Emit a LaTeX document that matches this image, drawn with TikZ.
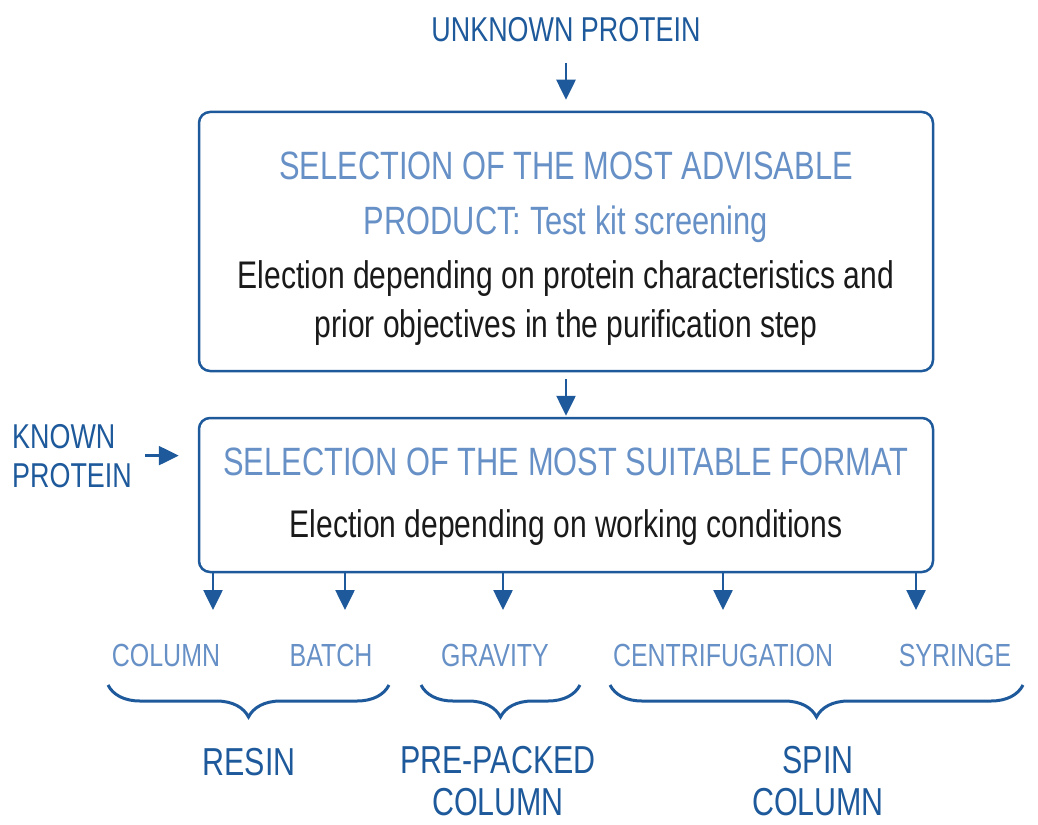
\documentclass[tikz,border=0pt]{standalone}
\usepackage{fontspec}
\setmainfont{Liberation Sans}[FakeStretch=0.78]
\usetikzlibrary{arrows.meta,decorations.pathreplacing}

\definecolor{darkblue}{HTML}{1E5A9B}
\definecolor{lightblue}{HTML}{6690C6}
\definecolor{bodygray}{HTML}{1A1A1A}

\tikzset{
  stepframe/.style={draw=darkblue, line width=2.5pt, rounded corners=11pt, inner sep=0pt},
  flowarrow/.style={draw=darkblue, line width=2.6pt, -{Triangle[length=20pt,width=19pt]}},
  headtext/.style={text=lightblue, align=center, font=\fontsize{39.5}{55}\selectfont, inner sep=0pt},
  bodytext/.style={text=bodygray, align=center, font=\fontsize{38.5}{49}\selectfont, inner sep=0pt},
  optiontext/.style={text=lightblue, font=\fontsize{32}{38}\selectfont, inner sep=0pt, anchor=base},
  inputtext/.style={text=darkblue, font=\fontsize{34.5}{39}\selectfont, inner sep=0pt},
  grouptext/.style={text=darkblue, align=center, font=\fontsize{39}{42}\selectfont, inner sep=0pt, anchor=base},
  groupbrace/.style={draw=darkblue, line width=3pt, decorate, decoration={brace, mirror, amplitude=32pt}}
}

\begin{document}
\begin{tikzpicture}[x=1pt,y=-1pt]
\useasboundingbox (0,0) rectangle (1038,824);

% the two selection steps (base = last line)
\node[stepframe, minimum width=734pt, minimum height=259pt] (product) at (566,241.5) {};
\node[stepframe, minimum width=734pt, minimum height=154pt] (format) at (566,495) {};

\node[headtext, anchor=base] (producthead) at (566,234) {SELECTION OF THE MOST ADVISABLE\\PRODUCT: Test kit screening};
\node[bodytext, anchor=base] (productbody) at (566,337) {Election depending on protein characteristics and\\prior objectives in the purification step};
\node[headtext, anchor=base] (formathead) at (566,475) {SELECTION OF THE MOST SUITABLE FORMAT};
\node[bodytext, anchor=base] (formatbody) at (566,537) {Election depending on working conditions};

% inputs
\node[inputtext, anchor=base] (unknown) at (566,42) {UNKNOWN PROTEIN};
\node[inputtext, align=left, anchor=base west] (known) at (12,487) {KNOWN\\PROTEIN};

\draw[flowarrow, shorten <=20pt, shorten >=11pt] (unknown.south) -- (product.north);
\draw[flowarrow, shorten <=7pt, shorten >=1pt] (product.south) -- (format.north);
\draw[flowarrow, shorten <=13pt, shorten >=19pt] (known.east) -- (known.east -| format.west);

% formats
\node[optiontext] (column) at (166,666) {COLUMN};
\node[optiontext] (batch) at (331,666) {BATCH};
\node[optiontext] (gravity) at (495,666) {GRAVITY};
\node[optiontext] (centrif) at (723,666) {CENTRIFUGATION};
\node[optiontext] (syringe) at (955,666) {SYRINGE};

\coordinate (columnin) at (213,610);
\coordinate (batchin) at (345,610);
\coordinate (gravityin) at (503,610);
\coordinate (centrifin) at (723,610);
\coordinate (syringein) at (916,610);
\foreach \tip in {columnin,batchin,gravityin,centrifin,syringein}
  \draw[flowarrow] (format.south -| \tip) -- (\tip);

% groups
\draw[groupbrace] (108,685) -- (389,685);
\draw[groupbrace] (421,685) -- (580,685);
\draw[groupbrace] (610,685) -- (1023,685);

\node[grouptext] (resin) at (249,775) {RESIN};
\node[grouptext] (prepacked) at (498,815) {PRE-PACKED\\COLUMN};
\node[grouptext] (spin) at (818,815) {SPIN\\COLUMN};
\end{tikzpicture}
\end{document}
